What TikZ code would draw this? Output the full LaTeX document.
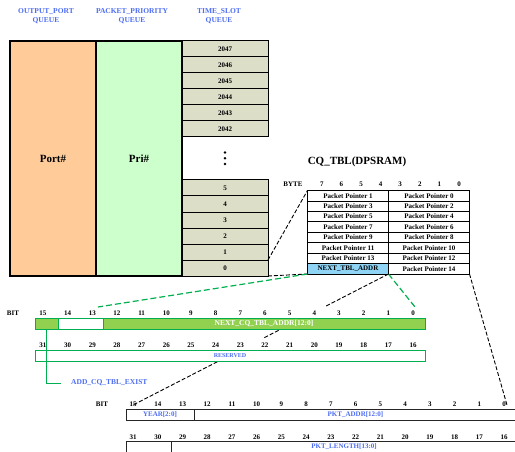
\documentclass[tikz,border=0pt]{standalone}
\usepackage{fontspec}
\setmainfont{Liberation Serif}
\usetikzlibrary{positioning, calc}
\definecolor{portOrange}{HTML}{FFCC99}
\definecolor{priGreen}{HTML}{CCFFCC}
\definecolor{slotGray}{HTML}{DCDEC8}
\definecolor{tblBlue}{HTML}{8FD3F5}
\definecolor{barGreen}{HTML}{92D050}
\definecolor{lineGreen}{HTML}{00B050}
\definecolor{labelBlue}{HTML}{4D6DF3}

\begin{document}
\begin{tikzpicture}[x=1pt, y=-1pt,
  hdr/.style={font=\bfseries\fontsize{7.5}{9}\selectfont, text=labelBlue, align=center},
  queue/.style={draw, line width=1.2pt, minimum width=86pt, minimum height=235pt,
                inner sep=0pt, outer sep=0pt, font=\bfseries\fontsize{11}{13}\selectfont},
  slotbox/.style={draw, line width=1pt, fill=slotGray, minimum width=86pt, minimum height=16pt,
                  inner sep=0pt, outer sep=0pt, font=\bfseries\fontsize{7}{8}\selectfont},
  ptrbox/.style={draw, line width=0.8pt, fill=white, minimum width=81pt, minimum height=10.44pt,
                 inner sep=0pt, outer sep=0pt, font=\bfseries\fontsize{7}{8}\selectfont},
  bitnum/.style={font=\bfseries\fontsize{7}{8}\selectfont, inner sep=0pt},
  gcell/.style={draw=lineGreen, line width=0.9pt, minimum height=11pt, inner sep=0pt,
                outer sep=0pt, anchor=west, font=\bfseries\fontsize{7.5}{8}\selectfont},
  kcell/.style={draw=black!85, line width=0.8pt, fill=white, minimum height=11pt, inner sep=0pt,
                outer sep=0pt, anchor=west, text=labelBlue, font=\bfseries\fontsize{7}{8}\selectfont},
  blackdash/.style={dash pattern=on 4pt off 2pt, line width=0.9pt},
  greendash/.style={draw=lineGreen, dash pattern=on 6pt off 3pt, line width=1.2pt}
]
\useasboundingbox (0,0) rectangle (515,452);

\node[hdr] (hPort) at (46,16.5) {OUTPUT\_PORT\\QUEUE};
\node[hdr] (hPri)  at (132,16.5) {PACKET\_PRIORITY\\QUEUE};
\node[hdr] (hSlot) at (219,16.5) {TIME\_SLOT\\QUEUE};

\node[queue, fill=portOrange] (port) at (53,158.5)  {Port\#};
\node[queue, fill=priGreen]   (pri)  at (139,158.5) {Pri\#};

\foreach \n [count=\i from 0] in {2047,2046,2045,2044,2043,2042}
  \node[slotbox] (slot\n) at (225,{49+16*\i}) {\n};
\foreach \n [count=\i from 0] in {5,4,3,2,1,0}
  \node[slotbox] (slot\n) at (225,{188+16*\i}) {\n};
\foreach \d in {152.5,158.3,164}
  \fill (225,\d) circle (1.4pt);

\node[font=\bfseries\fontsize{11}{13}\selectfont] (tbltitle) at (357,162) {CQ\_TBL(DPSRAM)};
\node[bitnum] (bytelbl) at (293,184) {BYTE};
\foreach \k in {0,...,7}
  \node[bitnum] (byte\k) at ({459-19.6*\k},184) {\k};
\foreach \r in {0,...,7} {
  \pgfmathtruncatemacro{\ev}{2*\r}
  \node[ptrbox] (ptr\ev) at (429,{195.7+10.44*\r}) {Packet Pointer \ev};
}
\foreach \r in {0,...,6} {
  \pgfmathtruncatemacro{\od}{2*\r+1}
  \node[ptrbox] (ptr\od) at (348,{195.7+10.44*\r}) {Packet Pointer \od};
}
\node[ptrbox, fill=tblBlue] (nexttbl) at (348,{195.7+10.44*7}) {NEXT\_TBL\_ADDR};

\coordinate (upL)  at (98,307);
\coordinate (upR)  at (415,307);
\coordinate (lowL) at (133,405);
\coordinate (lowR) at (507,405);
\draw[blackdash] (slot0.north east) -- (ptr1.north west);
\draw[blackdash] (slot0.south east) -- (nexttbl.south west);
\draw[greendash] (nexttbl.south west) -- (upL);
\draw[greendash] (nexttbl.south east) -- (upR);
\draw[blackdash] (nexttbl.south east) -- ($(nexttbl.south east)!0.25!(lowL)$)
  ($(nexttbl.south east)!0.43!(lowL)$) -- ($(nexttbl.south east)!0.49!(lowL)$)
  ($(nexttbl.south east)!0.67!(lowL)$) -- (lowL);
\draw[blackdash] (ptr14.south east) -- (lowR);

\node[bitnum] (bitlbl) at (13,313) {BIT};
\foreach \b in {0,...,15}
  \node[bitnum] (ub\b) at ({413-24.67*\b},313) {\b};
\foreach \b in {16,...,31}
  \node[bitnum] (ub\b) at ({413-24.67*(\b-16)},345) {\b};
\node[gcell, fill=barGreen, minimum width=23pt] (existbit) at (35,323.5) {};
\node[gcell, fill=white, minimum width=45pt, right=0pt of existbit] (spare) {};
\node[gcell, fill=barGreen, text=white, minimum width=322pt, right=0pt of spare] (nextaddr) {NEXT\_CQ\_TBL\_ADDR[12:0]};
\node[gcell, fill=white, minimum width=390pt, text=labelBlue, font=\bfseries\fontsize{6}{7}\selectfont]
  (reserved) at (35,355.5) {\raisebox{-2pt}{RESERVED}};
\node[hdr, anchor=west, inner sep=0pt] (existlbl) at (71,383) {ADD\_CQ\_TBL\_EXIST};
\draw[lineGreen, line width=0.9pt] (existbit.south) |- ([xshift=-10pt]existlbl.west);

\node[bitnum] (bitlbl2) at (102,404) {BIT};
\foreach \b in {0,...,15}
  \node[bitnum] (lb\b) at ({504-24.73*\b},404) {\b};
\foreach \b in {16,...,31}
  \node[bitnum] (lb\b) at ({504-24.73*(\b-16)},437) {\b};
\node[kcell, minimum width=68pt] (year) at (126,414.5) {YEAR[2:0]};
\node[kcell, minimum width=323pt, right=0pt of year] (pktaddr) {PKT\_ADDR[12:0]};
\node[kcell, minimum width=45pt] (lenspare) at (126,446.5) {};
\node[kcell, minimum width=346pt, right=0pt of lenspare] (pktlen) {PKT\_LENGTH[13:0]};
\end{tikzpicture}
\end{document}
